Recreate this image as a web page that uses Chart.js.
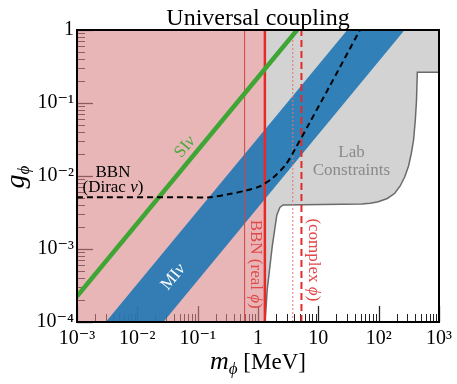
<!DOCTYPE html>
<html>
<head>
<meta charset="utf-8">
<script src="https://cdn.jsdelivr.net/npm/chart.js@4.4.0/dist/chart.umd.min.js"></script>
<style>
  html, body { margin: 0; padding: 0; background: #fff; }
</style>
</head>
<body>
<canvas id="grafico" width="457" height="384"></canvas>
<script>
// valores: m em MeV, g adimensional
const xTicks = [1e-3, 1e-2, 1e-1, 1, 10, 100, 1000];
const yTicks = [1e-4, 1e-3, 1e-2, 1e-1, 1];

// BBN (Dirac nu) - curva tracejada preta
const bbnM = [1e-3, 0.073, 0.156, 0.333, 0.627, 1.04, 1.72, 2.86, 4.18, 7.38, 14.8, 49];
const bbnG = [5.1e-3, 5.1e-3, 5.1e-3, 5.66e-3, 6.3e-3, 7.14e-3, 9.29e-3, 1.42e-2, 2.39e-2, 5.6e-2, 0.16, 1.0];

// SI nu (linha verde)
const siM = [1e-3, 4.44];
const siG = [2.25e-4, 1];

// MI nu (faixa azul)
const miM = [3.0e-3, 30.2, 269, 0.027];
const miG = [1e-4, 1, 1, 1e-4];

// regiao BBN excluida (rosa)
const bbnRegiaoM = [1e-3, 1e-3, 1.3, 1.3];
const bbnRegiaoG = [1e-4, 1, 1, 1e-4];

// Lab constraints (cinza)
const labM = [1.3, 1000, 1000, 437, 424, 405, 379, 348, 313, 271, 227, 185, 139, 98.5, 72.8, 52.3, 2.6, 2.3, 2.05, 1.72, 1.42, 1.34, 1.3];
const labG = [1, 1, 0.264, 0.264, 0.11, 0.0585, 0.0311, 0.0205, 0.0137, 0.00977, 0.0073, 0.0058, 0.00492, 0.00445, 0.00424, 0.00413, 0.00401, 0.0037, 0.0029, 1.08e-3, 2.75e-4, 1.33e-4, 1e-4];

// limites BBN verticais
const bbnRealLim = [0.6, 1.3];
const bbnComplexLim = [3.77, 5.25];

const pares = (ms, gs) => ms.map((m, i) => ({x: m, y: gs[i]}));
const vertical = m => [{x: m, y: 1e-4}, {x: m, y: 1}];

const sup = {'-': '\u207B', '0': '\u2070', '1': '\u00B9', '2': '\u00B2', '3': '\u00B3', '4': '\u2074'};
function rotuloPotencia(v) {
    const e = Math.round(Math.log10(v));
    if (e === 0) return '1';
    if (e === 1) return '10';
    return '10' + String(e).split('').map(c => sup[c]).join('');
}

const serif = '"Liberation Serif", "DejaVu Serif", serif';

// escreve pedacos de texto com fontes diferentes, centrado em x
function textoRico(ctx, partes, x, y) {
    let total = 0;
    partes.forEach(p => { ctx.font = p[1]; total += ctx.measureText(p[0]).width; });
    let cx = x - total / 2;
    partes.forEach(p => {
        ctx.font = p[1];
        ctx.fillText(p[0], cx, y + (p[2] || 0));
        cx += ctx.measureText(p[0]).width;
    });
}

function textoGirado(ctx, partes, x, y, ang, cor) {
    ctx.save();
    ctx.translate(x, y);
    ctx.rotate(ang);
    ctx.fillStyle = cor;
    ctx.textAlign = 'left';
    ctx.textBaseline = 'middle';
    textoRico(ctx, partes, 0, 0);
    ctx.restore();
}

const ticksInternos = {
    id: 'ticksInternos',
    beforeDatasetsDraw(chart) {
        const {ctx, chartArea: a, scales: {x, y}} = chart;
        ctx.save();
        ctx.strokeStyle = '#222';
        const risco = (x1, y1, x2, y2, w) => {
            ctx.lineWidth = w;
            ctx.beginPath();
            ctx.moveTo(x1, y1);
            ctx.lineTo(x2, y2);
            ctx.stroke();
        };
        xTicks.forEach((v, i) => {
            const px = Math.round(x.getPixelForValue(v)) + 0.5;
            risco(px, a.bottom, px, a.bottom - 16, 1.3);
            if (i < xTicks.length - 1) {
                for (let k = 2; k <= 9; k++) {
                    const pm = Math.round(x.getPixelForValue(k * v)) + 0.5;
                    risco(pm, a.bottom, pm, a.bottom - 8, 1);
                }
            }
        });
        yTicks.forEach((v, i) => {
            const py = Math.round(y.getPixelForValue(v)) + 0.5;
            risco(a.left, py, a.left + 16, py, 1.3);
            if (i < yTicks.length - 1) {
                for (let k = 2; k <= 9; k++) {
                    const pm = Math.round(y.getPixelForValue(k * v)) + 0.5;
                    risco(a.left, pm, a.left + 8, pm, 1);
                }
            }
        });
        ctx.restore();
    },
    afterDraw(chart) {
        const {ctx, chartArea: a, scales: {x, y}} = chart;
        ctx.save();
        // moldura
        ctx.strokeStyle = '#000';
        ctx.lineWidth = 2;
        ctx.strokeRect(a.left, a.top, a.right - a.left, a.bottom - a.top);

        // titulo
        ctx.fillStyle = '#000';
        ctx.textAlign = 'center';
        ctx.textBaseline = 'alphabetic';
        ctx.font = '24px ' + serif;
        ctx.fillText('Universal coupling', (a.left + a.right) / 2, 25);

        // titulos dos eixos
        ctx.textAlign = 'left';
        textoRico(ctx, [['m', 'italic 26px ' + serif], ['\u03D5', 'italic 17px ' + serif, 5], [' [MeV]', '23px ' + serif]], 258, 369);
        ctx.save();
        ctx.translate(24, 177);
        ctx.rotate(-Math.PI / 2);
        textoRico(ctx, [['g', 'italic 28px ' + serif], ['\u03D5', 'italic 17px ' + serif, 5]], 0, 0);
        ctx.restore();

        // rotulos dentro do grafico
        const px = v => x.getPixelForValue(v);
        const py = v => y.getPixelForValue(v);
        const ang = Math.atan2(py(1e-1) - py(1e-2), px(1e-1) - px(1e-2));
        const f17 = '17px ' + serif, i17 = 'italic 17px ' + serif;

        textoGirado(ctx, [['SI', f17], ['\u03BD', i17]], px(0.062), py(0.025), ang, '#4aa83a');
        textoGirado(ctx, [['MI', f17], ['\u03BD', i17]], px(0.0395), py(4.13e-4), ang, '#ffffff');
        textoGirado(ctx, [['BBN', f17]], px(3.94e-3), py(0.011), 0, '#000');
        textoGirado(ctx, [['(Dirac ', f17], ['\u03BD', i17], [')', f17]], px(3.94e-3), py(6.85e-3), 0, '#000');
        textoGirado(ctx, [['Lab', f17]], px(35.4), py(0.0207), 0, '#8a8a8a');
        textoGirado(ctx, [['Constraints', f17]], px(35.4), py(0.0117), 0, '#8a8a8a');
        textoGirado(ctx, [['BBN (real ', f17], ['\u03D5', i17], [')', f17]], px(0.916), py(6.2e-4), Math.PI / 2, '#e0484a');
        textoGirado(ctx, [['(complex ', f17], ['\u03D5', i17], [')', f17]], px(8.37), py(7.1e-4), Math.PI / 2, '#e0484a');
        ctx.restore();
    }
};

const linha = (data, cor, largura, extra) => Object.assign({
    data: data,
    showLine: true,
    pointRadius: 0,
    borderColor: cor,
    borderWidth: largura,
    fill: false
}, extra || {});

new Chart(document.getElementById('grafico'), {
    type: 'scatter',
    data: {
        datasets: [
            linha(pares(bbnM, bbnG), '#000', 2, {borderDash: [6, 4], tension: 0.3}),
            linha(pares(siM, siG), '#3fa535', 4.5),
            linha(vertical(bbnRealLim[0]), '#d24444', 1),
            linha(vertical(bbnRealLim[1]), '#e62a2a', 2.5),
            linha(vertical(bbnComplexLim[0]), '#ee7070', 1, {borderDash: [2, 2]}),
            linha(vertical(bbnComplexLim[1]), '#e62a2a', 2, {borderDash: [7, 4]}),
            linha(pares(miM, miG), 'rgba(0,0,0,0)', 0, {fill: 'shape', backgroundColor: 'rgba(31,119,180,0.9)'}),
            linha(pares(labM, labG), '#6b6b6b', 1.5, {fill: 'shape', backgroundColor: '#d3d3d3'}),
            linha(pares(bbnRegiaoM, bbnRegiaoG), 'rgba(0,0,0,0)', 0, {fill: 'shape', backgroundColor: 'rgba(217,133,133,0.6)'})
        ]
    },
    options: {
        responsive: false,
        animation: false,
        layout: {padding: {top: 30, right: 16, bottom: 0, left: 0}},
        plugins: {
            legend: {display: false},
            tooltip: {enabled: false}
        },
        scales: {
            x: {
                type: 'logarithmic',
                min: 1e-3,
                max: 1e3,
                grid: {display: false, drawTicks: false},
                border: {display: false},
                afterBuildTicks: s => { s.ticks = xTicks.map(v => ({value: v})); },
                afterFit: s => { s.height = 62; },
                ticks: {
                    autoSkip: false,
                    maxRotation: 0,
                    padding: 5,
                    color: '#000',
                    font: {family: serif, size: 20},
                    callback: v => rotuloPotencia(v)
                }
            },
            y: {
                type: 'logarithmic',
                min: 1e-4,
                max: 1,
                grid: {display: false, drawTicks: false},
                border: {display: false},
                afterBuildTicks: s => { s.ticks = yTicks.map(v => ({value: v})); },
                afterFit: s => { s.width = 77; },
                ticks: {
                    autoSkip: false,
                    padding: 3,
                    color: '#000',
                    font: {family: serif, size: 20},
                    callback: v => rotuloPotencia(v)
                }
            }
        }
    },
    plugins: [ticksInternos]
});
</script>
</body>
</html>
